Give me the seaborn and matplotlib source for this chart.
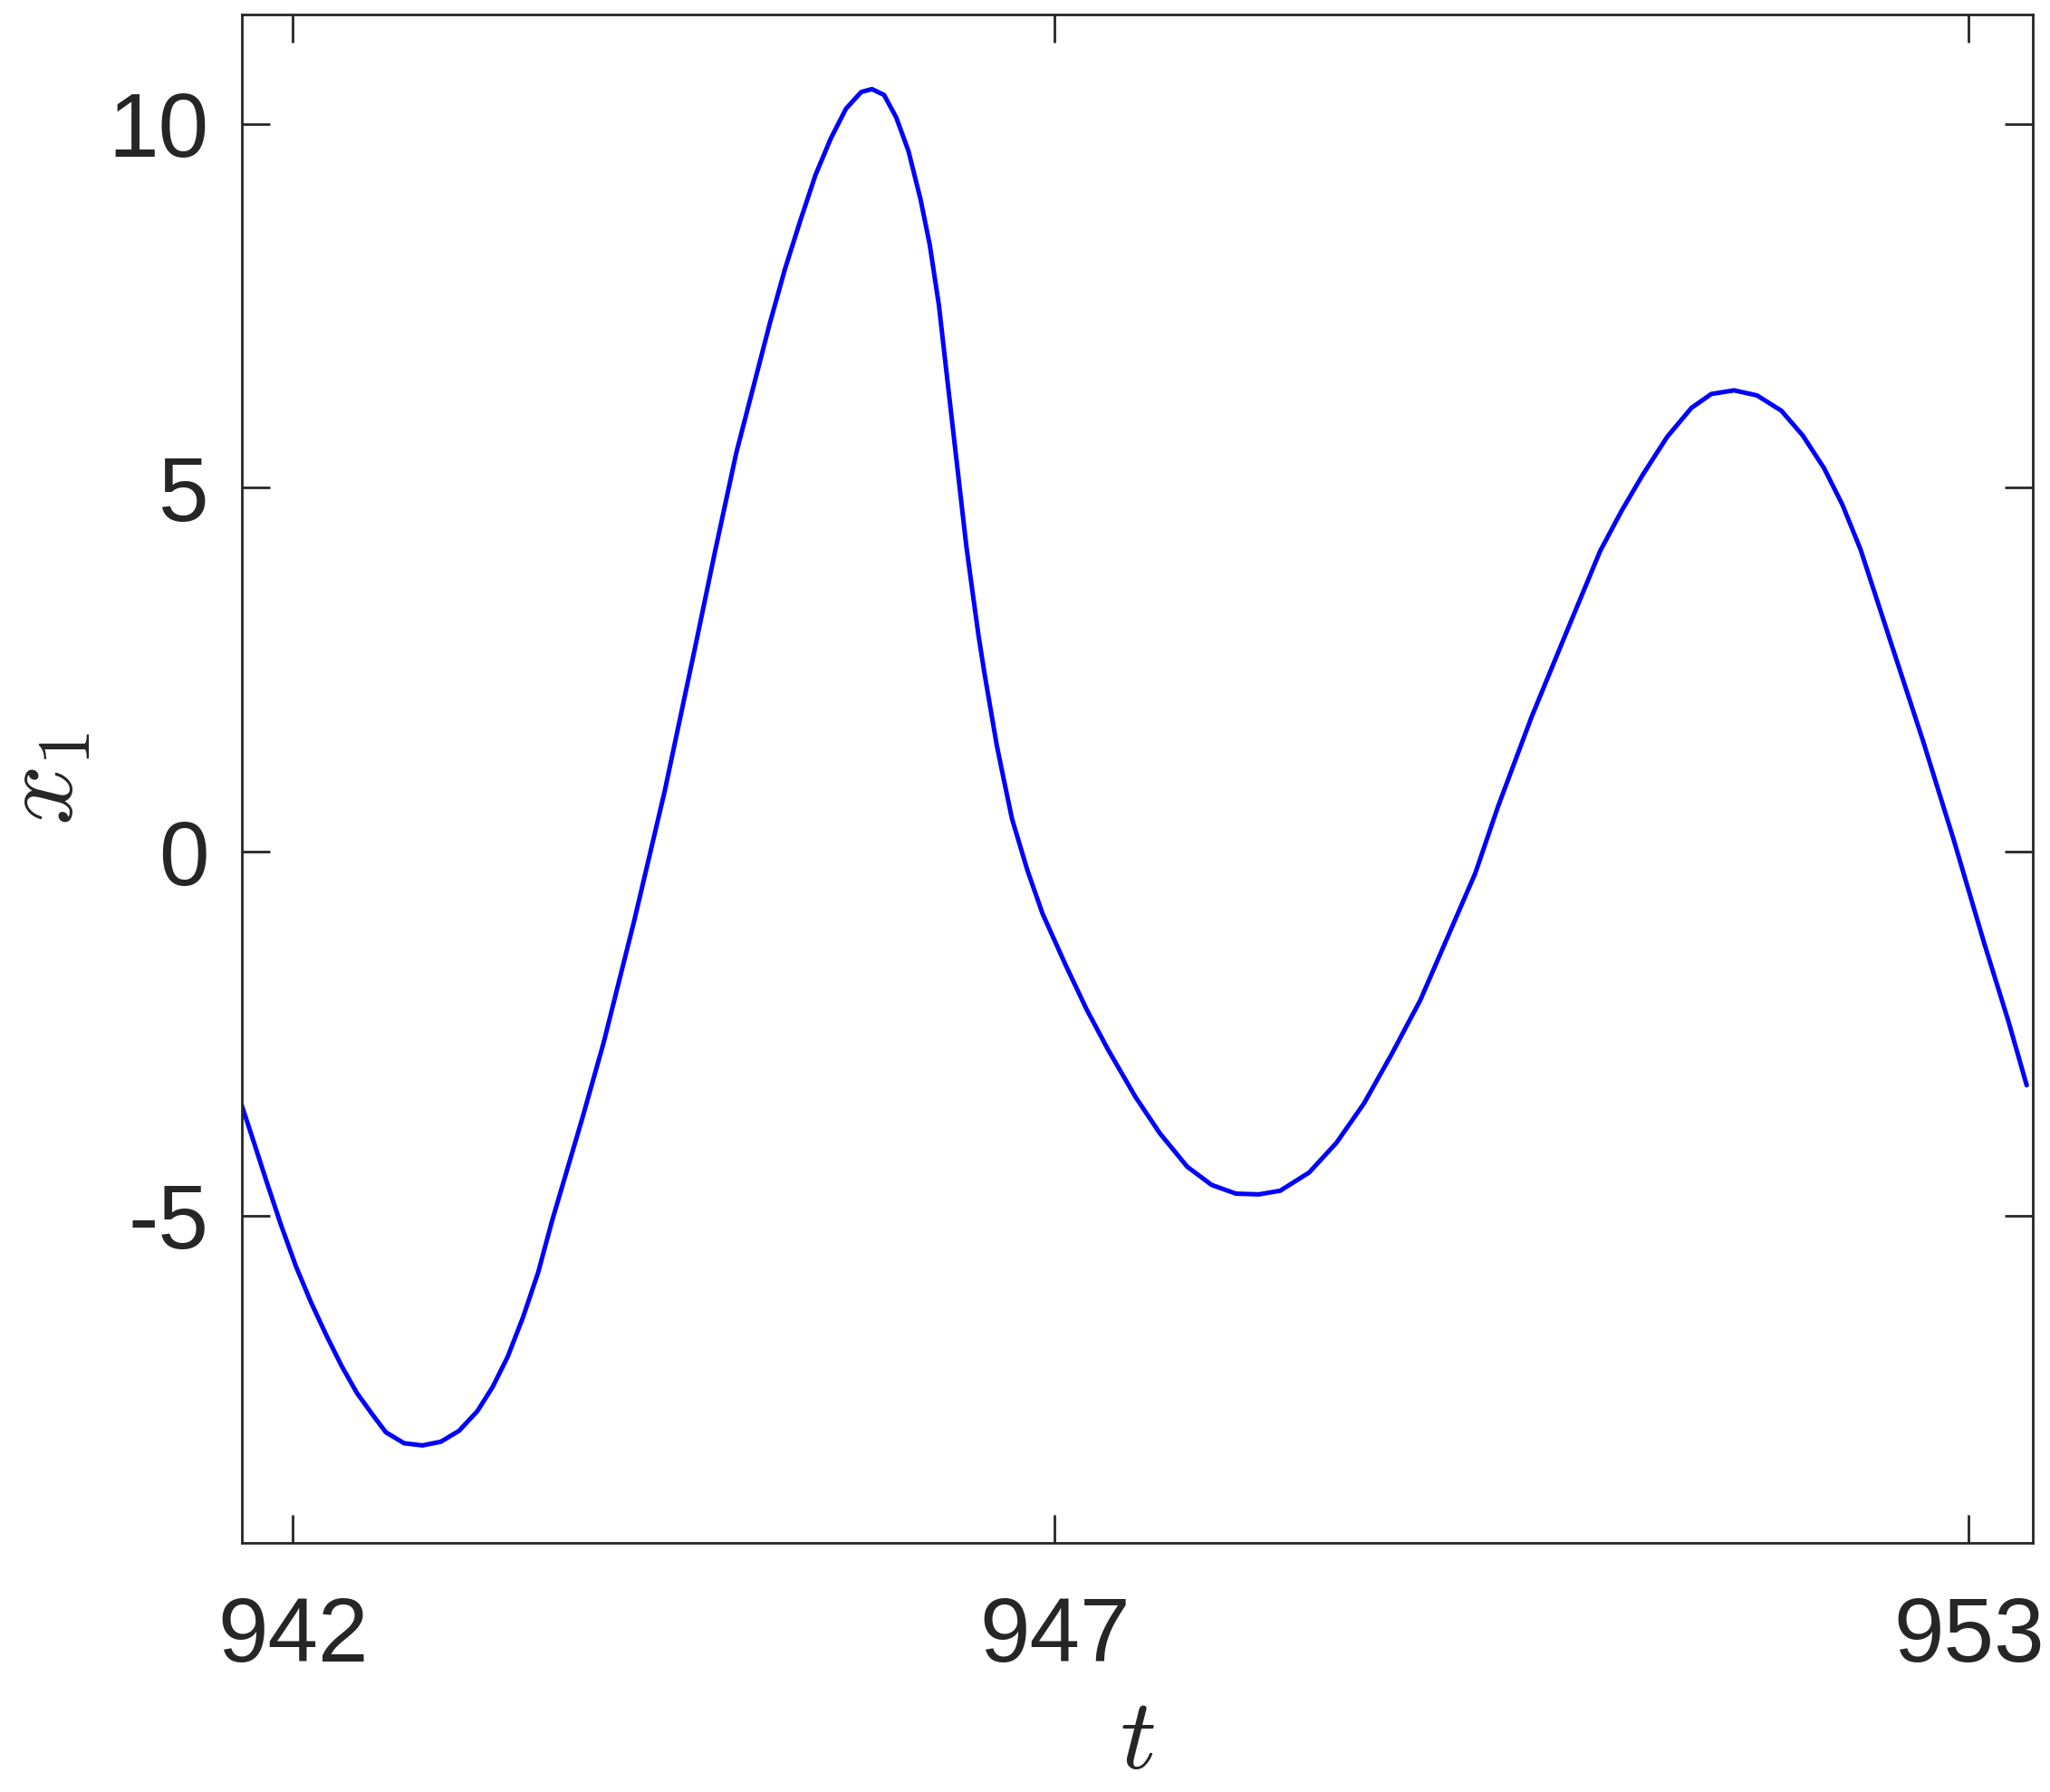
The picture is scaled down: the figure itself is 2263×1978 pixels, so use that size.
import numpy as np
import pandas as pd
import seaborn as sns
import matplotlib.pyplot as plt

# Time series
t = [941.663, 941.743, 941.82, 941.92, 942.02, 942.12, 942.22, 942.32, 942.42,
     942.52, 942.61, 942.73, 942.85, 942.97, 943.09, 943.21, 943.31, 943.41,
     943.51, 943.61, 943.70, 943.80, 943.90, 944.04, 944.24, 944.44, 944.64,
     944.77, 944.91, 945.13, 945.23, 945.33, 945.43, 945.53, 945.63, 945.73,
     945.80, 945.88, 945.96, 946.04, 946.12, 946.18, 946.24, 946.30, 946.36,
     946.42, 946.46, 946.50, 946.54, 946.58, 946.62, 946.67, 946.72, 946.82,
     946.92, 947.07, 947.21, 947.35, 947.53, 947.69, 947.87, 948.03, 948.19,
     948.34, 948.48, 948.67, 948.85, 949.03, 949.21, 949.40, 949.58, 949.76,
     949.91, 950.13, 950.36, 950.58, 950.72, 950.86, 951.02, 951.18, 951.31,
     951.46, 951.61, 951.77, 951.91, 952.05, 952.17, 952.29, 952.50, 952.70,
     952.90, 953.10, 953.26, 953.38]
x1 = [-3.48, -3.99, -4.49, -5.12, -5.70, -6.20, -6.65, -7.07, -7.44,
      -7.73, -7.98, -8.13, -8.16, -8.11, -7.96, -7.69, -7.36, -6.94,
      -6.40, -5.78, -5.08, -4.37, -3.66, -2.62, -0.95, 0.83, 2.81,
      4.12, 5.48, 7.26, 8.01, 8.67, 9.30, 9.80, 10.21, 10.44,
      10.48, 10.40, 10.09, 9.63, 8.96, 8.34, 7.51, 6.40, 5.30,
      4.20, 3.58, 2.97, 2.44, 1.95, 1.46, 0.95, 0.45, -0.25,
      -0.85, -1.55, -2.17, -2.72, -3.37, -3.87, -4.33, -4.58, -4.70,
      -4.71, -4.66, -4.41, -4.00, -3.46, -2.79, -2.04, -1.17, -0.30,
      0.62, 1.85, 3.02, 4.13, 4.68, 5.18, 5.70, 6.10, 6.29,
      6.34, 6.27, 6.06, 5.72, 5.27, 4.77, 4.15, 2.80, 1.52,
      0.17, -1.25, -2.33, -3.21]
xticks = [942, 947, 953]
yticks = [-5, 0, 5, 10]

sns.set_theme(style="ticks")
plt.rcParams["font.family"] = ["Liberation Sans", "DejaVu Sans"]
plt.rcParams["mathtext.fontset"] = "cm"

df = pd.DataFrame({"t": t, "x1": x1})

fig = plt.figure(figsize=(22.63, 19.78), dpi=100)
ax = fig.add_axes([0.118, 0.139, 0.8736, 0.8527])

sns.lineplot(data=df, x="t", y="x1", ax=ax, color="#0000ff", linewidth=3.6,
             sort=False, estimator=None)
for ln in ax.lines:
    ln.set_solid_joinstyle("round")

ax.set_xlim(941.665, 953.42)
ax.set_ylim(-9.5, 11.5)
ax.set_xticks(xticks)
ax.set_yticks(yticks)
ax.set_xticklabels([str(v) for v in xticks])
ax.set_yticklabels([str(v) for v in yticks])

for s in ax.spines.values():
    s.set_visible(True)
    s.set_linewidth(2)
    s.set_color("#262626")

ax.tick_params(axis="both", direction="in", length=22, width=2, color="#262626",
               labelsize=72, labelcolor="#262626", top=True, right=True)
ax.tick_params(axis="x", pad=42)
ax.tick_params(axis="y", pad=26)

ax.set_xlabel("$t$", fontsize=80, color="#262626", labelpad=11)
ax.set_ylabel("$x_1$", fontsize=84, color="#262626", labelpad=11)

fig.savefig("out.png", dpi=100)
